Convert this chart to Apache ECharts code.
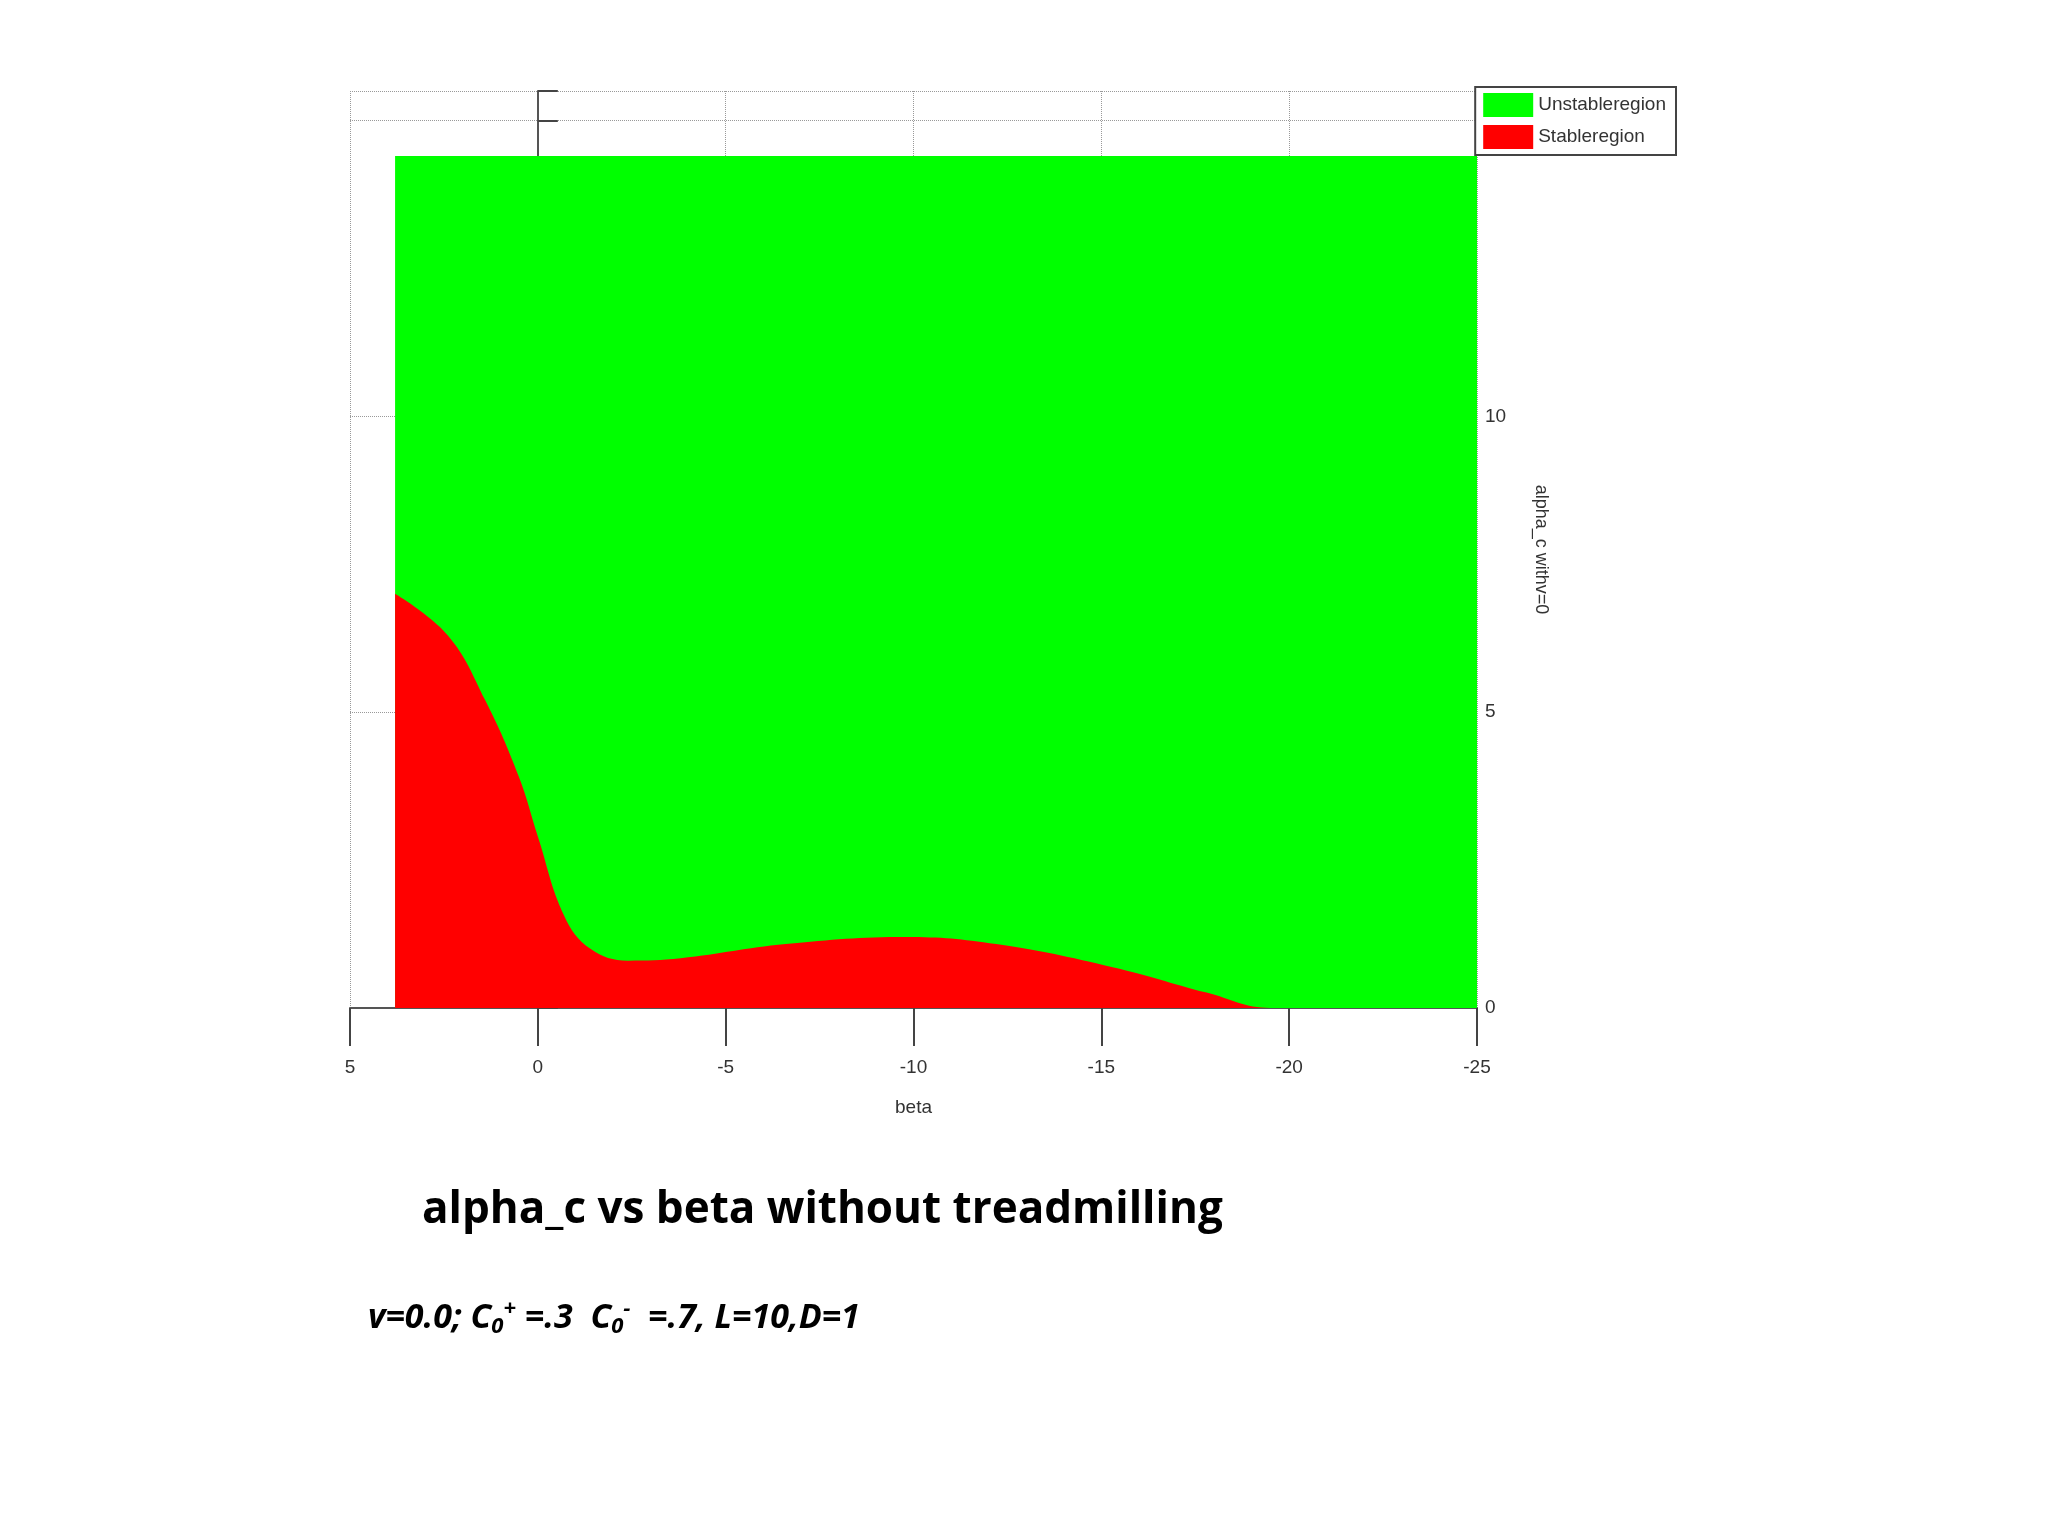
<!DOCTYPE html>
<html>
<head>
<meta charset="utf-8">
<title>alpha_c vs beta</title>
<script src="https://cdn.jsdelivr.net/npm/echarts@6/dist/echarts.min.js"></script>
<style>
html,body{margin:0;padding:0;background:#fff;}
#main{width:2048px;height:1536px;}
</style>
</head>
<body>
<div id="main"></div>
<script>
// beta values and alpha_c boundary (stable region below)
var betaVals = [3.8, 2.4, 1.4, 0.5, 0, -0.7, -1.4, -2.4, -3.8, -6.6, -9.8, -12.2, -15.3, -17.8, -19.5, -25];
var alphaVals = [7.0, 6.3, 5.2, 3.9, 2.9, 1.56, 1.0, 0.8, 0.84, 1.08, 1.2, 1.08, 0.69, 0.26, 0, 0];
var unstableTop = 14.4;
var xTicks = [5, 0, -5, -10, -15, -20, -25];

var stable = betaVals.map(function(b, i){ return [b, alphaVals[i]]; });
var unstable = [[betaVals[0], unstableTop], [betaVals[betaVals.length-1], unstableTop]];

var chart = echarts.init(document.getElementById('main'));
chart.setOption({
  animation: false,
  backgroundColor: '#fff',
  textStyle: {fontFamily: 'Liberation Sans Narrow, Liberation Sans'},
  grid: {left: 350, right: 571, top: 91, bottom: 528, show: false},
  legend: {
    right: 372, top: 87, orient: 'vertical', itemWidth: 50, itemHeight: 24, itemGap: 8,
    borderColor: '#444', borderWidth: 2, padding: [6, 10, 6, 8], backgroundColor: '#fff',
    textStyle: {color: '#333', fontSize: 19},
    data: [{name: 'Unstableregion', icon: 'rect'}, {name: 'Stableregion', icon: 'rect'}]
  },
  xAxis: {
    type: 'value', min: -25, max: 5, interval: 5, inverse: true,
    name: 'beta', nameLocation: 'middle', nameGap: 90,
    nameTextStyle: {fontSize: 19, color: '#333'},
    axisLine: {lineStyle: {color: '#555', width: 2}},
    axisTick: {length: 38, lineStyle: {color: '#444', width: 2}},
    axisLabel: {margin: 50, fontSize: 19, color: '#333'},
    splitLine: {show: true, lineStyle: {type: 'dotted', color: '#999'}}
  },
  yAxis: {
    type: 'value', min: 0, max: 15.5, interval: 5, position: 'right',
    name: 'alpha_c withv=0', nameLocation: 'middle', nameGap: 55, nameRotate: -90,
    nameTextStyle: {fontSize: 18, color: '#333'},
    axisLine: {show: true, lineStyle: {color: '#555', width: 2}},
    axisTick: {length: 20, inside: false, lineStyle: {color: '#444', width: 2}},
    axisLabel: {fontSize: 19, color: '#333', formatter: function(v){ return v > 12 ? '' : v; }},
    splitLine: {show: true, lineStyle: {type: 'dotted', color: '#999'}}
  },
  series: [
    {name: 'Unstableregion', type: 'line', data: unstable, symbol: 'none',
     lineStyle: {width: 0}, itemStyle: {color: '#00ff00'},
     areaStyle: {color: '#00ff00', opacity: 1}},
    {name: 'Stableregion', type: 'line', data: stable, symbol: 'none', smooth: 0.4,
     lineStyle: {width: 0}, itemStyle: {color: '#ff0000'},
     areaStyle: {color: '#ff0000', opacity: 1}}
  ],
  graphic: [
    {type: 'text', left: 422, top: 1188, style: {text: 'alpha_c vs beta without treadmilling',
      font: 'bold 44px "Open Sans", "Liberation Sans"', fill: '#000'}},
    {type: 'text', left: 368, top: 1298, style: {
      text: '{m|v=0.0; C}{s|0}{p|+}{m| =.3  C}{s|0}{p|-}{m|  =.7, L=10,D=1}',
      rich: {
        m: {font: 'italic bold 34px "Open Sans", "Liberation Sans"', fill: '#000', verticalAlign: 'middle'},
        s: {font: 'italic bold 22px "Open Sans", "Liberation Sans"', fill: '#000', padding: [18, 0, 0, 0]},
        p: {font: 'italic bold 22px "Open Sans", "Liberation Sans"', fill: '#000', padding: [0, 0, 18, 0]}
      }}}
  ]
});
</script>
</body>
</html>
